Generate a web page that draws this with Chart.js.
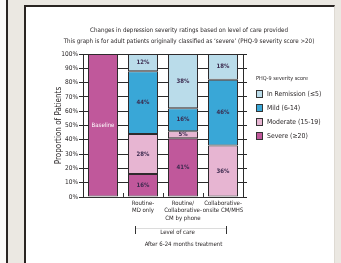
<!DOCTYPE html>
<html>
<head>
<meta charset="utf-8">
<script src="https://cdn.jsdelivr.net/npm/chart.js@4"></script>
<style>
  html, body { margin: 0; padding: 0; }
  body { width: 341px; height: 263px; background: #ebe8e2; position: relative; overflow: hidden; }
  .leftPanel { position: absolute; left: 0; top: 0; width: 6px; height: 263px; background: #fbfaf8; border-right: 2px solid #2a2522; }
  .panel { position: absolute; left: 24px; top: 5px; width: 308px; height: 270px; background: #fff;
           border-left: 2px solid #2a2522; border-top: 2px solid #2a2522; border-right: 1px solid #dedad3; }
  canvas { position: absolute; left: 0; top: 0; }
</style>
</head>
<body>
<div class="leftPanel"></div>
<div class="panel"></div>
<canvas id="chart" width="341" height="263"></canvas>
<script>
// Dados do gráfico
const categorias = ['Baseline', 'Routine-MD only', 'Routine/Collaborative-CM by phone', 'Collaborative-onsite CM/MHS'];
const rotulosEixoX = [[], ['Routine-', 'MD only'], ['Routine/', 'Collaborative-', 'CM by phone'], ['Collaborative-', 'onsite CM/MHS']];
const severo = [100, 16, 41, 0];
const moderado = [0, 28, 5, 36];
const leve = [0, 44, 16, 46];
const remissao = [0, 12, 38, 18];
const ticksY = [0, 10, 20, 30, 40, 50, 60, 70, 80, 90, 100];

const titulo = [
    'Changes in depression severity ratings based on level of care provided',
    'This graph is for adult patients originally classified as \u2018severe\u2019 (PHQ-9 severity score >20)'
];
const tituloLegenda = 'PHQ-9 severity score';
const nivelCuidado = 'Level of care';
const periodo = 'After 6-24 months treatment';

const FONTE = '"Liberation Sans Narrow", "DejaVu Sans Condensed", sans-serif';
const TEXTO = '#231f20';

// Rótulos dentro das barras
const rotulosBarras = {
    id: 'rotulosBarras',
    afterDatasetsDraw(chart) {
        const ctx = chart.ctx;
        ctx.save();
        ctx.textAlign = 'center';
        ctx.textBaseline = 'middle';
        chart.data.datasets.forEach((ds, i) => {
            chart.getDatasetMeta(i).data.forEach((bar, j) => {
                const v = ds.data[j];
                if (!v) return;
                const y = (bar.y + bar.base) / 2;
                if (v === 100) {
                    ctx.font = '6px ' + FONTE;
                    ctx.fillStyle = '#ffffff';
                    ctx.fillText(categorias[j], bar.x, y);
                } else {
                    ctx.font = 'bold 6px ' + FONTE;
                    ctx.fillStyle = '#3b2a4e';
                    ctx.fillText(v + '%', bar.x, y);
                }
            });
        });
        ctx.restore();
    }
};

// Título, legenda e anotações do eixo X
const anotacoes = {
    id: 'anotacoes',
    afterDraw(chart) {
        const ctx = chart.ctx;
        const x = chart.scales.x;
        const area = chart.chartArea;
        ctx.save();
        ctx.fillStyle = TEXTO;
        ctx.textBaseline = 'middle';

        // título
        ctx.textAlign = 'center';
        ctx.font = '6.2px ' + FONTE;
        ctx.fillText(titulo[0], 189, 30);
        ctx.fillText(titulo[1], 189, 41);

        // colchete "Level of care"
        const x1 = x.getPixelForValue(1) - 8;
        const x2 = x.getPixelForValue(3) + 3;
        ctx.strokeStyle = '#dcdcdc';
        ctx.lineWidth = 1;
        ctx.beginPath();
        ctx.moveTo(x1, 228.5);
        ctx.lineTo(x2, 228.5);
        ctx.stroke();
        ctx.strokeStyle = '#333';
        ctx.beginPath();
        ctx.moveTo(Math.round(x1) + 0.5, 226);
        ctx.lineTo(Math.round(x1) + 0.5, 234);
        ctx.moveTo(Math.round(x2) + 0.5, 226);
        ctx.lineTo(Math.round(x2) + 0.5, 234);
        ctx.stroke();
        ctx.font = '6px ' + FONTE;
        ctx.fillText(nivelCuidado, (x1 + x2) / 2 - 3, 232);
        ctx.fillText(periodo, (x1 + x2) / 2 + 3, 244);

        // legenda
        const lx = area.right + 13;
        ctx.textAlign = 'left';
        ctx.font = '5.5px ' + FONTE;
        ctx.fillText(tituloLegenda, lx, 79);
        ctx.font = '6.8px ' + FONTE;
        const dsRev = chart.data.datasets.slice().reverse();
        dsRev.forEach((ds, k) => {
            const cy = 93 + k * 14;
            ctx.fillStyle = ds.backgroundColor;
            ctx.fillRect(lx, cy - 3, 6, 7);
            ctx.strokeStyle = '#333';
            ctx.strokeRect(lx + 0.5, cy - 2.5, 6, 7);
            ctx.fillStyle = TEXTO;
            ctx.fillText(ds.label, lx + 11, cy + 1);
        });
        ctx.restore();
    }
};

function criarDataset(label, data, cor) {
    return {
        label: label,
        data: data,
        backgroundColor: cor,
        borderColor: '#2e2a2c',
        borderWidth: 1,
        borderSkipped: false,
        barPercentage: 0.75,
        categoryPercentage: 1.0
    };
}

new Chart(document.getElementById('chart').getContext('2d'), {
    type: 'bar',
    data: {
        labels: rotulosEixoX,
        datasets: [
            criarDataset('Severe (\u226520)', severo, '#c0589b'),
            criarDataset('Moderate (15-19)', moderado, '#e7b5d2'),
            criarDataset('Mild (6-14)', leve, '#39a7d7'),
            criarDataset('In Remission (\u22645)', remissao, '#badcea')
        ]
    },
    options: {
        responsive: false,
        animation: false,
        layout: { padding: { left: 54, right: 94, top: 54, bottom: 36 } },
        plugins: {
            legend: { display: false },
            title: { display: false },
            tooltip: { enabled: false }
        },
        scales: {
            x: {
                stacked: true,
                grid: { offset: true, drawOnChartArea: false, tickLength: -4, color: '#333' },
                border: { color: '#333' },
                ticks: {
                    color: TEXTO,
                    font: { family: FONTE, size: 6 },
                    padding: 7,
                    maxRotation: 0,
                    autoSkip: false
                },
                afterFit(scale) { scale.height = 30; }
            },
            y: {
                stacked: true,
                min: 0,
                max: 100,
                afterBuildTicks(scale) { scale.ticks = ticksY.map(v => ({ value: v })); },
                grid: { color: '#2a2a2a', tickLength: 4 },
                border: { color: '#2a2a2a' },
                ticks: {
                    color: TEXTO,
                    font: { family: FONTE, size: 6.5 },
                    padding: 1,
                    callback: v => v + '%'
                },
                title: {
                    display: true,
                    text: 'Proportion of Patients',
                    color: TEXTO,
                    font: { family: FONTE, size: 8 },
                    padding: { top: 0, bottom: 0 }
                },
                afterFit(scale) { scale.width = 29; }
            },
            y2: {
                position: 'right',
                min: 0,
                max: 100,
                afterBuildTicks(scale) { scale.ticks = ticksY.map(v => ({ value: v })); },
                grid: { drawOnChartArea: false, tickLength: 4, color: '#2a2a2a' },
                border: { color: '#2a2a2a' },
                ticks: { display: false },
                afterFit(scale) { scale.width = 4; }
            }
        }
    },
    plugins: [rotulosBarras, anotacoes]
});
</script>
</body>
</html>
